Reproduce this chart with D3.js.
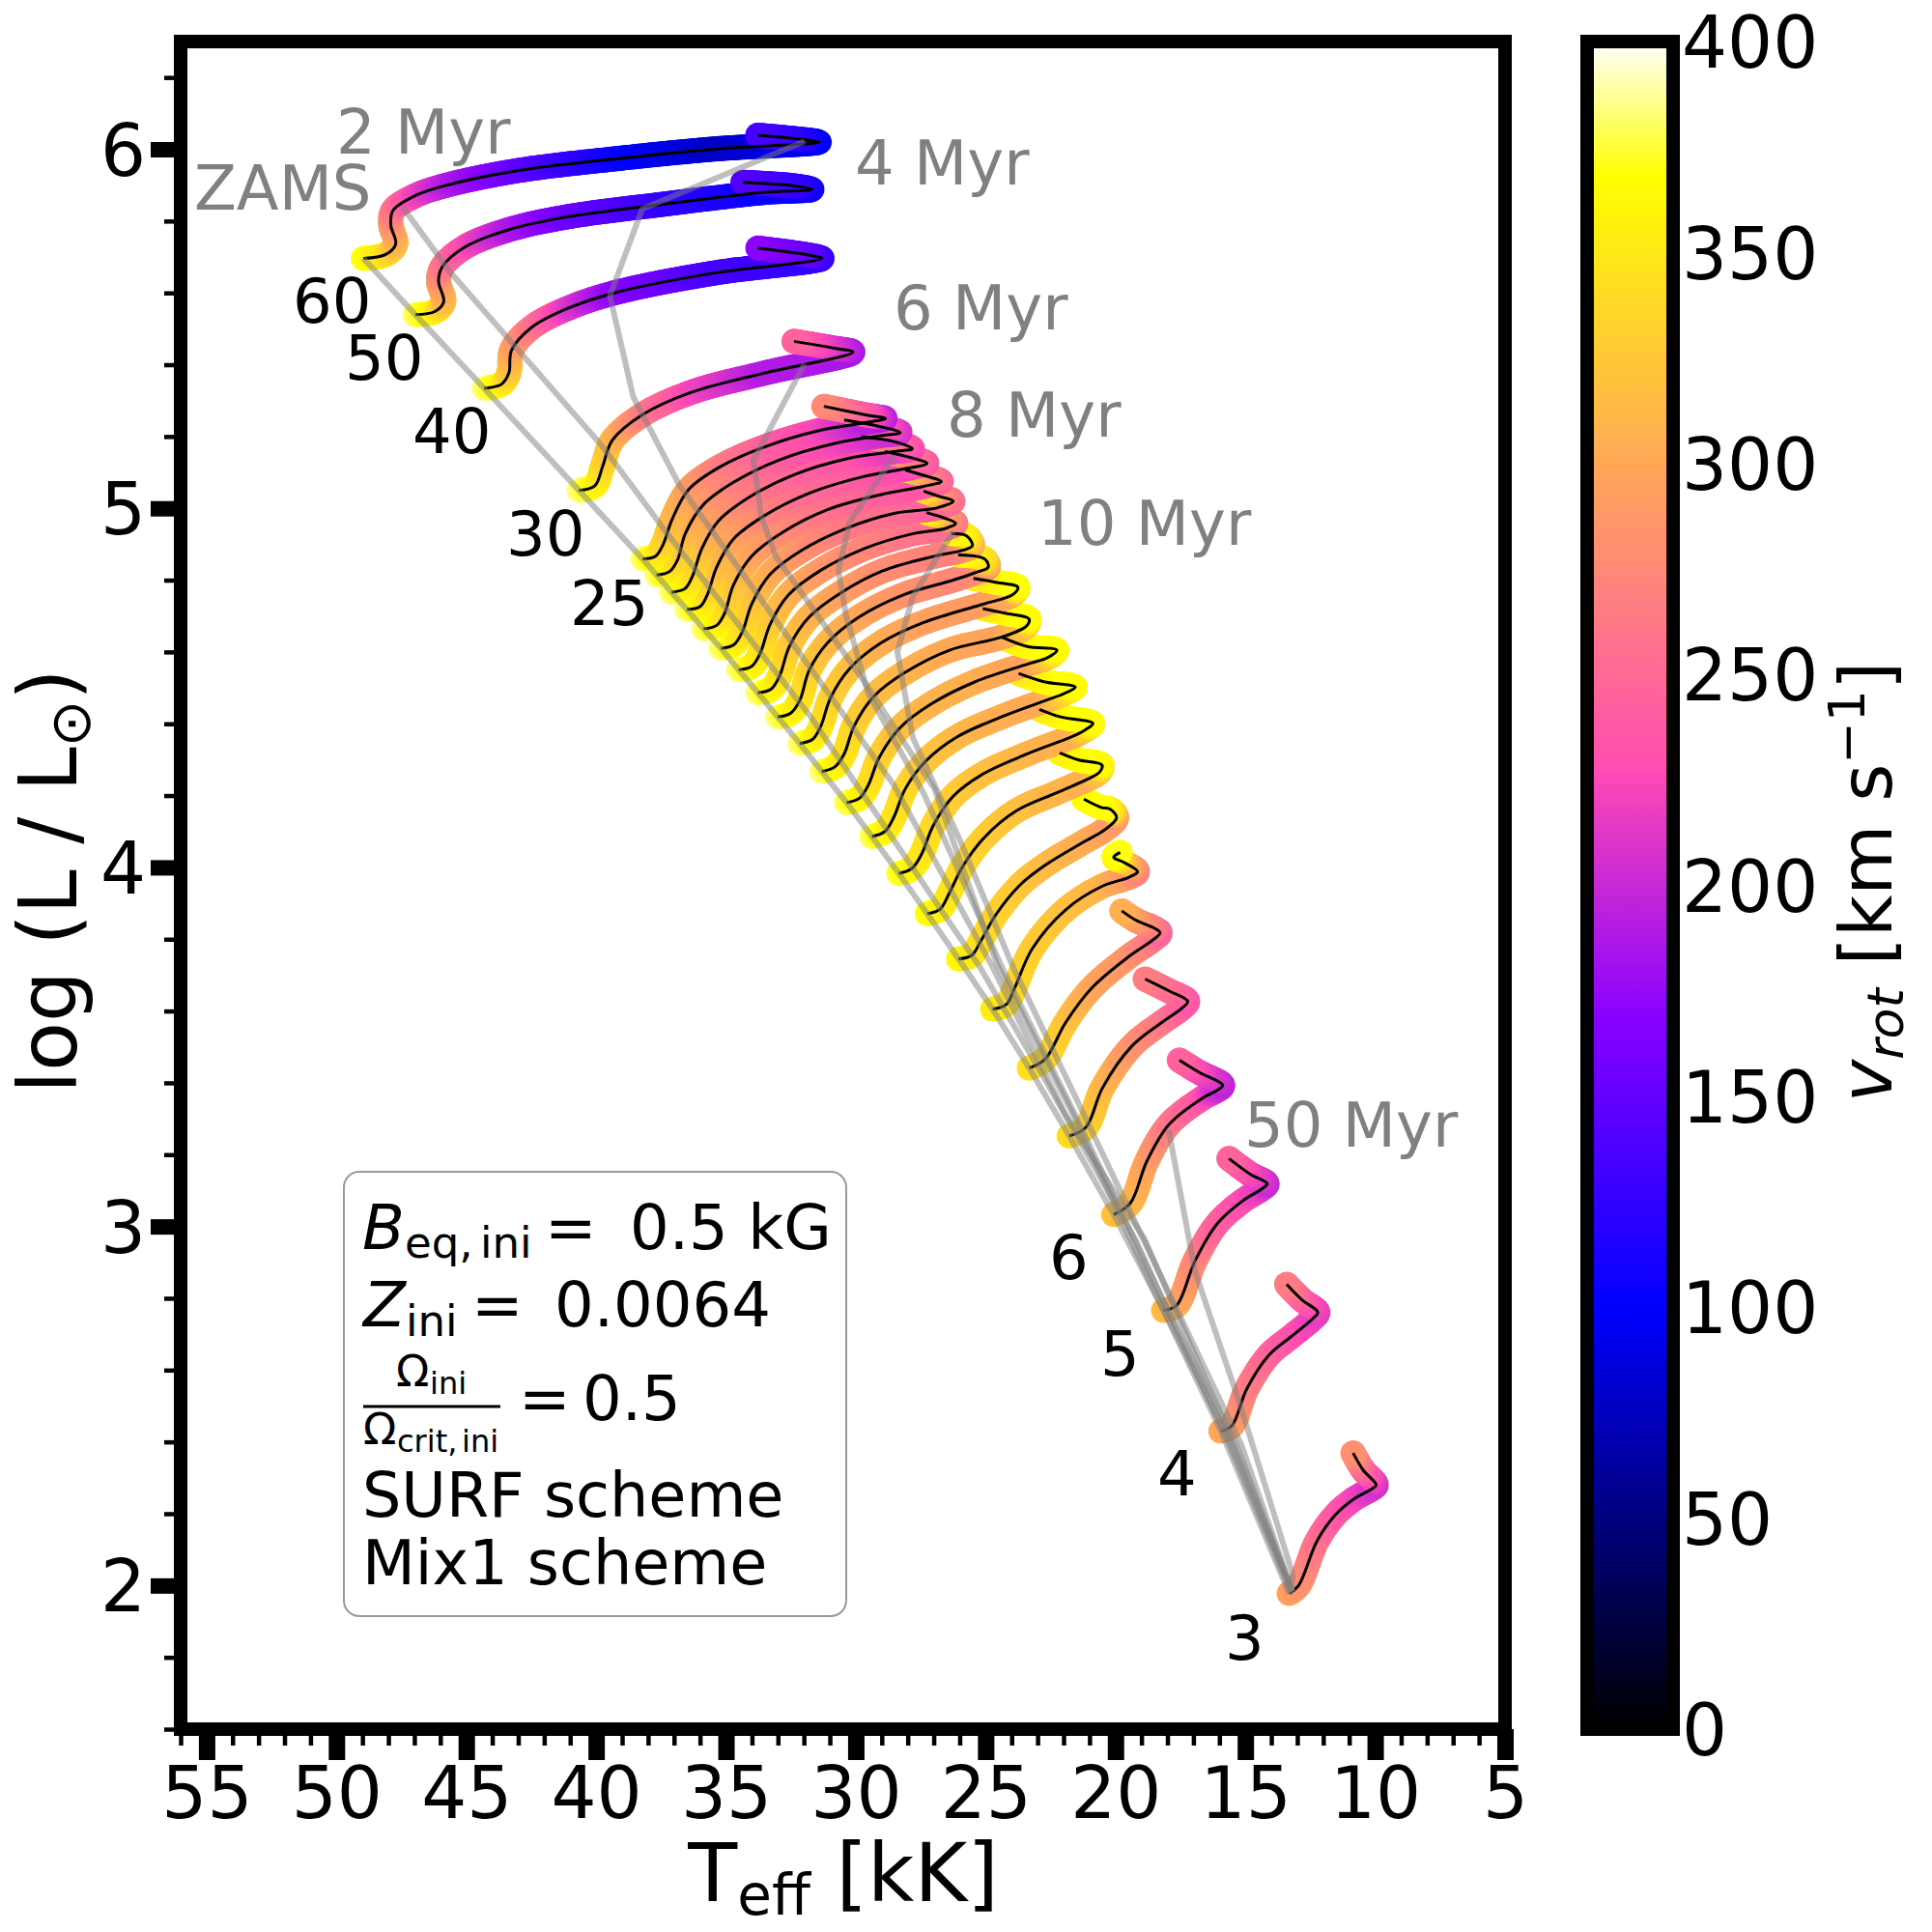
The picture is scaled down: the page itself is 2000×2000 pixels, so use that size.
<!DOCTYPE html>
<html>
<head>
    <title>HRD tracks</title>
    <meta charset="utf-8" />
    <script src="https://cdn.jsdelivr.net/npm/d3@7"></script>
    <style>
        body { margin: 0; background: #fff; }
        text { font-family: "DejaVu Sans", sans-serif; }
    </style>
</head>
<body>
    <script type="text/javascript">

        //Initial masses, in the order the tracks are drawn (low mass first)
        var masses = [3, 4, 5, 6, 7, 8, 9, 10, 11, 12, 13, 14, 15, 16, 17, 18, 19, 20, 21, 22, 23, 24, 25, 30, 40, 50, 60];

        //Teff in kK along each track
        var teffTracks = [
            [13.31, 12.95, 12.24, 11.53, 10.82, 10.11, 9.96, 10.46, 10.85],
            [15.94, 15.52, 14.95, 14.09, 13.24, 12.39, 12.21, 12.81, 13.41],
            [18.15, 17.65, 16.94, 16.09, 15.09, 14.38, 14.16, 14.80, 15.63],
            [20.07, 19.43, 18.79, 17.94, 16.66, 16.09, 15.87, 16.80, 17.54],
            [21.78, 21.14, 20.50, 19.36, 18.22, 17.44, 17.22, 17.94, 18.86],
            [23.32, 22.71, 21.92, 20.93, 19.50, 18.58, 18.28, 18.51, 19.22, 19.76],
            [24.73, 24.20, 23.89, 23.21, 21.92, 20.50, 19.50, 19.15, 19.65, 20.07, 19.82],
            [26.04, 25.54, 25.18, 24.61, 23.69, 22.69, 21.27, 20.41, 19.96, 20.20, 20.55, 21.22],
            [27.25, 26.75, 26.39, 25.89, 25.04, 23.83, 22.26, 20.98, 20.62, 20.52, 21.41, 22.15],
            [28.34, 27.84, 27.46, 27.03, 26.25, 25.11, 23.40, 21.55, 21.12, 20.87, 22.12, 22.93],
            [29.38, 28.88, 28.53, 28.10, 27.32, 26.11, 24.40, 22.69, 21.98, 21.55, 22.76, 23.73],
            [30.35, 29.85, 29.52, 29.10, 28.31, 27.10, 25.40, 23.26, 22.62, 22.26, 23.40, 24.37],
            [31.31, 30.81, 30.45, 30.07, 29.31, 28.10, 26.39, 24.40, 23.43, 23.33, 24.26, 25.11],
            [32.16, 31.66, 31.35, 30.98, 30.24, 29.03, 27.39, 25.11, 23.97, 23.76, 24.68, 25.47],
            [33.01, 32.52, 32.16, 31.80, 31.09, 29.88, 28.17, 26.25, 25.40, 24.90, 25.04, 26.06],
            [33.77, 33.27, 32.94, 32.56, 31.80, 30.59, 28.96, 26.96, 25.89, 25.51, 25.75, 26.32],
            [34.51, 34.01, 33.68, 33.30, 32.59, 31.38, 29.67, 27.82, 26.54, 26.15, 26.68, 27.28],
            [35.19, 34.70, 34.37, 34.01, 33.30, 32.09, 30.38, 28.53, 26.89, 26.25, 26.82, 27.39],
            [35.86, 35.36, 35.05, 34.72, 34.01, 32.80, 31.09, 29.10, 27.39, 26.71, 27.25, 28.10],
            [36.50, 36.00, 35.72, 35.36, 34.72, 33.51, 31.80, 29.67, 27.96, 27.26, 27.82, 28.88],
            [37.10, 36.57, 36.29, 35.93, 35.29, 34.08, 32.37, 30.24, 28.53, 27.82, 28.53, 29.78],
            [37.67, 37.17, 36.86, 36.57, 35.86, 34.65, 32.94, 30.81, 29.10, 28.29, 29.10, 30.45],
            [38.21, 37.71, 37.43, 37.07, 36.43, 35.22, 33.51, 31.38, 29.67, 28.86, 29.53, 31.23],
            [40.66, 40.05, 39.75, 39.38, 38.23, 36.34, 33.50, 30.11, 30.83, 32.38],
            [44.31, 43.64, 43.36, 43.26, 42.50, 41.09, 39.19, 35.40, 31.30, 31.79, 33.77],
            [46.96, 46.21, 45.87, 46.07, 45.92, 45.07, 43.36, 41.09, 37.29, 33.50, 31.69, 32.35, 34.35],
            [48.96, 48.10, 47.72, 47.91, 47.82, 46.96, 45.64, 42.98, 39.19, 35.40, 31.41, 32.16, 33.77]
        ];

        //log L along each track
        var logLTracks = [
            [1.978, 2.000, 2.124, 2.197, 2.241, 2.270, 2.280, 2.321, 2.369],
            [2.430, 2.445, 2.547, 2.642, 2.693, 2.744, 2.761, 2.795, 2.839],
            [2.766, 2.780, 2.904, 3.007, 3.072, 3.104, 3.119, 3.145, 3.189],
            [3.033, 3.065, 3.182, 3.284, 3.357, 3.379, 3.393, 3.430, 3.463],
            [3.252, 3.276, 3.386, 3.503, 3.568, 3.608, 3.627, 3.656, 3.689],
            [3.441, 3.466, 3.568, 3.663, 3.751, 3.797, 3.818, 3.831, 3.853, 3.879],
            [3.605, 3.619, 3.663, 3.773, 3.882, 3.948, 3.972, 3.988, 4.013, 4.028, 4.042],
            [3.745, 3.755, 3.796, 3.868, 3.950, 4.007, 4.069, 4.105, 4.138, 4.162, 4.167, 4.190],
            [3.871, 3.884, 3.930, 4.002, 4.084, 4.157, 4.208, 4.249, 4.265, 4.285, 4.299, 4.319],
            [3.983, 3.997, 4.038, 4.115, 4.198, 4.260, 4.316, 4.368, 4.385, 4.401, 4.419, 4.440],
            [4.086, 4.100, 4.141, 4.218, 4.295, 4.363, 4.419, 4.465, 4.484, 4.502, 4.517, 4.540],
            [4.180, 4.193, 4.229, 4.306, 4.388, 4.455, 4.517, 4.569, 4.584, 4.605, 4.615, 4.641],
            [4.267, 4.280, 4.316, 4.393, 4.476, 4.543, 4.605, 4.641, 4.672, 4.692, 4.708, 4.721],
            [4.345, 4.357, 4.393, 4.471, 4.553, 4.625, 4.682, 4.733, 4.759, 4.780, 4.795, 4.805],
            [4.419, 4.429, 4.465, 4.548, 4.625, 4.697, 4.759, 4.800, 4.821, 4.836, 4.859, 4.870],
            [4.486, 4.496, 4.532, 4.615, 4.697, 4.764, 4.826, 4.867, 4.883, 4.896, 4.924, 4.929],
            [4.550, 4.560, 4.597, 4.677, 4.759, 4.826, 4.888, 4.929, 4.944, 4.958, 4.975, 4.988],
            [4.610, 4.620, 4.656, 4.733, 4.816, 4.883, 4.944, 4.986, 5.001, 5.020, 5.034, 5.048],
            [4.664, 4.674, 4.708, 4.785, 4.867, 4.934, 4.996, 5.037, 5.061, 5.075, 5.089, 5.107],
            [4.718, 4.726, 4.759, 4.836, 4.914, 4.980, 5.042, 5.089, 5.112, 5.125, 5.140, 5.158],
            [4.766, 4.777, 4.811, 4.888, 4.965, 5.032, 5.094, 5.140, 5.158, 5.166, 5.186, 5.199],
            [4.814, 4.824, 4.857, 4.929, 5.011, 5.075, 5.135, 5.181, 5.202, 5.211, 5.228, 5.246],
            [4.859, 4.867, 4.898, 4.970, 5.053, 5.116, 5.171, 5.217, 5.238, 5.250, 5.259, 5.284],
            [5.050, 5.063, 5.117, 5.189, 5.260, 5.323, 5.377, 5.435, 5.446, 5.465],
            [5.334, 5.346, 5.377, 5.440, 5.503, 5.557, 5.602, 5.656, 5.696, 5.705, 5.725],
            [5.539, 5.548, 5.575, 5.633, 5.673, 5.727, 5.776, 5.812, 5.848, 5.880, 5.888, 5.898, 5.908],
            [5.696, 5.707, 5.736, 5.790, 5.830, 5.871, 5.902, 5.941, 5.974, 6.001, 6.020, 6.028, 6.039]
        ];

        //Surface rotation in km/s along each track
        var vrotTracks = [
            [295, 285, 260, 240, 225, 210, 205, 240, 280],
            [300, 295, 270, 250, 235, 220, 215, 235, 265],
            [315, 305, 275, 245, 230, 215, 200, 220, 245],
            [320, 315, 295, 265, 235, 205, 195, 220, 245],
            [340, 335, 315, 285, 265, 245, 235, 250, 265],
            [345, 340, 325, 300, 285, 265, 245, 260, 285, 305],
            [355, 350, 340, 330, 320, 310, 290, 270, 310, 365, 370],
            [365, 355, 345, 335, 325, 315, 305, 295, 285, 350, 368, 368],
            [370, 360, 350, 340, 330, 320, 310, 305, 320, 360, 370, 360],
            [375, 365, 350, 340, 330, 320, 310, 305, 330, 365, 370, 355],
            [380, 365, 350, 340, 325, 315, 305, 300, 330, 365, 370, 355],
            [380, 365, 350, 335, 320, 310, 305, 295, 320, 365, 370, 355],
            [385, 365, 350, 335, 320, 310, 300, 295, 320, 365, 370, 350],
            [385, 365, 350, 335, 320, 305, 295, 290, 300, 365, 370, 350],
            [385, 365, 350, 335, 315, 300, 285, 275, 275, 290, 340, 370],
            [385, 365, 350, 330, 310, 295, 280, 270, 270, 300, 350, 365],
            [385, 365, 350, 330, 310, 290, 275, 260, 255, 260, 290, 360],
            [385, 365, 345, 325, 305, 285, 265, 255, 245, 255, 275, 340],
            [385, 365, 345, 325, 300, 280, 260, 245, 235, 245, 265, 325],
            [385, 365, 345, 320, 300, 275, 255, 240, 225, 235, 255, 300],
            [385, 365, 345, 320, 295, 270, 250, 235, 215, 225, 250, 290],
            [385, 360, 340, 315, 295, 270, 245, 225, 205, 205, 235, 265],
            [385, 360, 340, 315, 295, 270, 245, 225, 195, 190, 230, 275],
            [385, 365, 340, 315, 270, 225, 190, 185, 205, 245],
            [385, 360, 330, 300, 265, 215, 170, 135, 125, 145, 170],
            [380, 360, 320, 290, 265, 230, 190, 155, 125, 105, 105, 125, 140],
            [370, 345, 315, 290, 265, 225, 190, 150, 105, 78, 95, 118, 135]
        ];

        //Isochrones (Teff, log L)
        var iso2T = [47.45, 45.63, 43.00, 39.75, 38.78, 37.37, 31.75, 26.62, 25.25, 22.64, 19.22, 15.53, 13.26];
        var iso2L = [5.839, 5.659, 5.441, 5.172, 5.078, 4.940, 4.421, 3.871, 3.726, 3.400, 2.962, 2.377, 1.982];
        var iso4T = [31.97, 38.22, 39.47, 38.57, 36.79, 34.65, 31.68, 28.53, 24.76, 21.93, 18.88, 15.35, 13.22];
        var iso4L = [6.022, 5.834, 5.592, 5.310, 5.064, 4.847, 4.548, 4.229, 3.726, 3.312, 2.964, 2.377, 1.984];
        var iso6T = [31.97, 33.94, 33.65, 33.09, 29.67, 26.97, 24.54, 21.64, 18.49, 15.53, 13.19];
        var iso6L = [5.403, 5.135, 4.980, 4.867, 4.517, 4.219, 3.726, 3.313, 2.816, 2.393, 1.984];
        var iso8T = [28.53, 30.24, 30.67, 30.38, 29.53, 27.40, 24.40, 21.56, 18.32, 15.35, 13.19];
        var iso8L = [5.145, 4.960, 4.827, 4.703, 4.486, 4.208, 3.726, 3.312, 2.816, 2.393, 1.984];
        var iso10T = [26.25, 27.81, 28.40, 27.81, 25.98, 23.97, 21.22, 17.95, 15.16, 13.19];
        var iso10L = [4.935, 4.754, 4.600, 4.362, 4.074, 3.726, 3.312, 2.816, 2.393, 1.984];
        var iso50T = [17.95, 16.94, 15.23, 13.17, 13.26];
        var iso50L = [3.268, 2.875, 2.510, 2.030, 1.976];

        //Tick values
        var xMajor = [55, 50, 45, 40, 35, 30, 25, 20, 15, 10, 5];
        var xMinor = d3.range(6, 57).filter(function (d) { return d % 5 != 0; });
        var yMajor = [2, 3, 4, 5, 6];
        var yMinor = [1.6, 1.8, 2.2, 2.4, 2.6, 2.8, 3.2, 3.4, 3.6, 3.8, 4.2, 4.4, 4.6, 4.8, 5.2, 5.4, 5.6, 5.8, 6.2];
        var cbarTicks = [0, 50, 100, 150, 200, 250, 300, 350, 400];

        //Text on the plot
        var ageLabels = [
            { t: "2 Myr", x: 348, y: 159 },
            { t: "ZAMS", x: 201, y: 217 },
            { t: "4 Myr", x: 885, y: 191 },
            { t: "6 Myr", x: 925, y: 341 },
            { t: "8 Myr", x: 980, y: 452 },
            { t: "10 Myr", x: 1074, y: 564 },
            { t: "50 Myr", x: 1288, y: 1187 }
        ];
        var massLabels = [
            { t: "60", x: 303, y: 334 },
            { t: "50", x: 357, y: 393 },
            { t: "40", x: 427, y: 469 },
            { t: "30", x: 524, y: 575 },
            { t: "25", x: 590, y: 647 },
            { t: "6", x: 1086, y: 1324 },
            { t: "5", x: 1139, y: 1424 },
            { t: "4", x: 1198, y: 1548 },
            { t: "3", x: 1268, y: 1718 }
        ];

        var w = 2000, h = 2000;
        var left = 187, right = 1558, top_ = 43, bottom = 1790;

        var xScale = d3.scaleLinear().domain([56, 5]).range([left, right]);
        var yScale = d3.scaleLinear().domain([1.6, 6.3]).range([bottom, top_]);
        var cScale = d3.scaleLinear().domain([0, 400]).range([bottom, top_]);

        //matplotlib gnuplot2
        function gnuplot2(x) {
            var r = x / 0.32 - 0.78125;
            var g = 2 * x - 0.84;
            var b;
            if (x < 0.25) b = 4 * x;
            else if (x < 0.42) b = 1;
            else if (x < 0.92) b = -2 * x + 1.84;
            else b = x / 0.08 - 11.5;
            var c = function (v) { return Math.round(255 * Math.max(0, Math.min(1, v))); };
            return "rgb(" + c(r) + "," + c(g) + "," + c(b) + ")";
        }

        var svg = d3.select("body")
            .append("svg")
            .attr("width", w)
            .attr("height", h);

        svg.append("rect")
            .attr("x", left).attr("y", top_)
            .attr("width", right - left).attr("height", bottom - top_)
            .attr("fill", "white");

        var trackLine = d3.line().curve(d3.curveCatmullRom.alpha(0.5));
        var greyLine = d3.line();

        function trackPoints(i) {
            return teffTracks[i].map(function (t, k) {
                return [xScale(t), yScale(logLTracks[i][k])];
            });
        }

        //Thick coloured tracks: a row of dots along each curve, like a scatter
        var dots = svg.append("g");
        var blacks = svg.append("g");

        masses.forEach(function (m, i) {
            var pts = trackPoints(i);
            var black = blacks.append("path")
                .attr("d", trackLine(pts))
                .attr("fill", "none")
                .attr("stroke", "black")
                .attr("stroke-width", 3);

            var node = black.node();
            var total = node.getTotalLength();

            //chord length at each vertex, to place vrot along the curve
            var cum = [0];
            for (var k = 1; k < pts.length; k++) {
                cum.push(cum[k - 1] + Math.hypot(pts[k][0] - pts[k - 1][0], pts[k][1] - pts[k - 1][1]));
            }
            var vAt = d3.scaleLinear()
                .domain(cum.map(function (c) { return c / cum[cum.length - 1] * total; }))
                .range(vrotTracks[i]);

            var samples = d3.range(0, total, 2).concat([total]);
            dots.selectAll("circle.m" + m)
                .data(samples)
                .enter()
                .append("circle")
                .attr("class", "m" + m)
                .attr("cx", function (s) { return node.getPointAtLength(s).x; })
                .attr("cy", function (s) { return node.getPointAtLength(s).y; })
                .attr("r", 13)
                .attr("fill", function (s) { return gnuplot2(vAt(s) / 400); });
        });

        //Isochrones
        var zamsT = teffTracks.map(function (t) { return t[0]; });
        var zamsL = logLTracks.map(function (l) { return l[0]; });
        var isochrones = [[zamsT, zamsL], [iso2T, iso2L], [iso4T, iso4L], [iso6T, iso6L], [iso8T, iso8L], [iso10T, iso10L], [iso50T, iso50L]];

        svg.append("g").selectAll("path")
            .data(isochrones)
            .enter()
            .append("path")
            .attr("d", function (d) {
                return greyLine(d[0].map(function (t, k) { return [xScale(t), yScale(d[1][k])]; }));
            })
            .attr("fill", "none")
            .attr("stroke", "gray")
            .attr("stroke-opacity", 0.5)
            .attr("stroke-width", 6);

        //Labels
        svg.append("g").selectAll("text")
            .data(ageLabels)
            .enter()
            .append("text")
            .attr("x", function (d) { return d.x; })
            .attr("y", function (d) { return d.y; })
            .attr("font-size", 64)
            .attr("fill", "gray")
            .text(function (d) { return d.t; });

        svg.append("g").selectAll("text")
            .data(massLabels)
            .enter()
            .append("text")
            .attr("x", function (d) { return d.x; })
            .attr("y", function (d) { return d.y; })
            .attr("font-size", 64)
            .attr("fill", "black")
            .text(function (d) { return d.t; });

        //Text box
        var box = svg.append("g");
        box.append("rect")
            .attr("x", 356).attr("y", 1213)
            .attr("width", 520).attr("height", 460)
            .attr("rx", 16).attr("ry", 16)
            .attr("fill", "white").attr("fill-opacity", 0.8)
            .attr("stroke", "#999").attr("stroke-width", 2);

        function boxText(s, x, y, size, italic) {
            box.append("text")
                .attr("x", x).attr("y", y)
                .attr("font-size", size)
                .attr("font-style", italic ? "italic" : "normal")
                .text(s);
        }
        boxText("B", 375, 1293, 64, true);
        boxText("eq,", 419, 1302, 45);
        boxText("ini", 497, 1302, 45);
        boxText("=", 564, 1293, 64);
        boxText("0.5 kG", 652, 1293, 64);
        boxText("Z", 376, 1373, 64, true);
        boxText("ini", 420, 1383, 45);
        boxText("=", 488, 1373, 64);
        boxText("0.0064", 574, 1373, 64);
        boxText("\u03A9", 410, 1435, 45);
        boxText("ini", 445, 1443, 32);
        box.append("rect")
            .attr("x", 376).attr("y", 1454.5)
            .attr("width", 142).attr("height", 3)
            .attr("fill", "black");
        boxText("\u03A9", 376, 1495, 45);
        boxText("crit,", 411, 1503, 32);
        boxText("ini", 478, 1503, 32);
        boxText("=", 537, 1470, 64);
        boxText("0.5", 603, 1470, 64);
        boxText("SURF scheme", 375, 1570, 63.6);
        boxText("Mix1 scheme", 375, 1640, 63.6);

        //Spines
        svg.append("rect")
            .attr("x", left).attr("y", top_)
            .attr("width", right - left).attr("height", bottom - top_)
            .attr("fill", "none")
            .attr("stroke", "black")
            .attr("stroke-width", 14);

        //Axes
        function styleAxis(g, width, size) {
            g.select(".domain").remove();
            g.selectAll(".tick line").attr("stroke", "black").attr("stroke-width", width);
            g.selectAll(".tick text")
                .attr("font-family", "DejaVu Sans")
                .attr("font-size", size)
                .attr("fill", "black");
        }

        svg.append("g")
            .attr("transform", "translate(0," + bottom + ")")
            .call(d3.axisBottom(xScale).tickValues(xMinor).tickSize(17).tickFormat(""))
            .call(styleAxis, 4.5, 0);
        svg.append("g")
            .attr("transform", "translate(0," + bottom + ")")
            .call(d3.axisBottom(xScale).tickValues(xMajor).tickSize(32).tickPadding(7).tickFormat(d3.format("d")))
            .call(styleAxis, 17, 74);
        svg.append("g")
            .attr("transform", "translate(" + left + ",0)")
            .call(d3.axisLeft(yScale).tickValues(yMinor).tickSize(17).tickFormat(""))
            .call(styleAxis, 4.5, 0);
        var yAx = svg.append("g")
            .attr("transform", "translate(" + left + ",0)")
            .call(d3.axisLeft(yScale).tickValues(yMajor).tickSize(31).tickPadding(5).tickFormat(d3.format("d")))
            .call(styleAxis, 16, 74);
        yAx.selectAll(".tick text").attr("dy", "0.36em");

        //Axis titles
        var xTitle = svg.append("text")
            .attr("x", 873).attr("y", 1968)
            .attr("text-anchor", "middle")
            .attr("font-size", 83.5);
        xTitle.append("tspan").text("T");
        xTitle.append("tspan").attr("font-size", 58).attr("dy", 14).text("eff");
        xTitle.append("tspan").attr("dy", -14).text(" [kK]");

        var yTitle = svg.append("text")
            .attr("transform", "translate(79,912) rotate(-90)")
            .attr("text-anchor", "middle")
            .attr("font-size", 83);
        yTitle.append("tspan").text("log (L / L");
        yTitle.append("tspan").attr("font-size", 58).attr("dy", 14).text("\u2299");
        yTitle.append("tspan").attr("dy", -14).text(")");

        //Colour bar
        var defs = svg.append("defs");
        var grad = defs.append("linearGradient")
            .attr("id", "cbar")
            .attr("x1", 0).attr("y1", 1).attr("x2", 0).attr("y2", 0);
        grad.selectAll("stop")
            .data(d3.range(0, 1.001, 0.01))
            .enter()
            .append("stop")
            .attr("offset", function (d) { return d; })
            .attr("stop-color", function (d) { return gnuplot2(d); });

        var cbX = 1643, cbW = 89;
        svg.append("rect")
            .attr("x", cbX).attr("y", cScale(400))
            .attr("width", cbW).attr("height", cScale(0) - cScale(400))
            .attr("fill", "url(#cbar)")
            .attr("stroke", "black")
            .attr("stroke-width", 14);

        var cAx = svg.append("g")
            .attr("transform", "translate(" + (cbX + cbW) + ",0)")
            .call(d3.axisRight(cScale).tickValues(cbarTicks).tickSize(0).tickPadding(9).tickFormat(d3.format("d")))
            .call(styleAxis, 0, 74);
        cAx.selectAll(".tick text").attr("dy", "0.36em");

        var cTitle = svg.append("text")
            .attr("transform", "translate(1958,913) rotate(-90)")
            .attr("text-anchor", "middle")
            .attr("font-size", 75);
        cTitle.append("tspan").attr("font-style", "italic").text("v");
        cTitle.append("tspan").attr("font-style", "italic").attr("font-size", 52).attr("dy", 12).text("rot");
        cTitle.append("tspan").attr("dy", -12).text(" [km s");
        cTitle.append("tspan").attr("font-size", 52).attr("dy", -28).text("\u22121");
        cTitle.append("tspan").attr("dy", 28).text("]");

    </script>
</body>
</html>
